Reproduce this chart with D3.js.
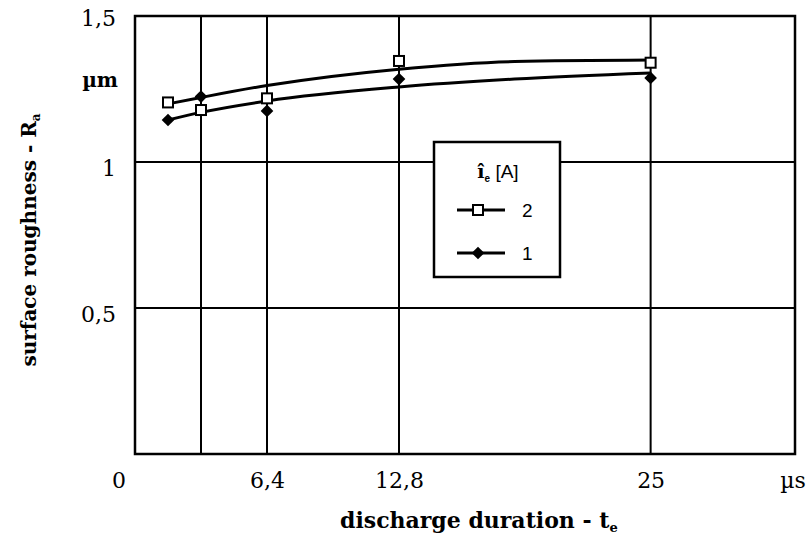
<!DOCTYPE html>
<html>
<head>
<meta charset="utf-8">
<script src="https://cdn.jsdelivr.net/npm/d3@7"></script>
<style>
  html, body { margin: 0; padding: 0; background: #fff; }
  svg { display: block; }
</style>
</head>
<body>
<svg id="chart" width="811" height="541"></svg>
<script>
// ---------- data ----------
const xValues = [1.6, 3.2, 6.4, 12.8, 25];                  // discharge duration t_e [µs]
const seriesNames = ["2", "1"];                              // î_e [A]
const seriesSquare = [1.204, 1.178, 1.218, 1.346, 1.340];    // î_e = 2 A
const seriesDiamond = [1.144, 1.224, 1.175, 1.284, 1.288];   // î_e = 1 A
const trendX = [1.6, 3.2, 6.4, 12.8, 18.4, 25];
const trendSquare = [1.199, 1.221, 1.262, 1.318, 1.344, 1.349];
const trendDiamond = [1.144, 1.170, 1.209, 1.257, 1.284, 1.305];
const xGridValues = [3.2, 6.4, 12.8, 25];
const xTickValues = [6.4, 12.8, 25];
const xTickLabels = ["6,4", "12,8", "25"];
const yGridValues = [0.5, 1.0];
const yTickValues = [1.5, 1.0, 0.5];
const yTickLabels = ["1,5", "1", "0,5"];

// ---------- layout ----------
const svg = d3.select("#chart");
const m = { left: 135, right: 795, top: 16, bottom: 454 };
const x = d3.scaleLinear().domain([0, 32]).range([m.left, m.right]);
const y = d3.scaleLinear().domain([0, 1.5]).range([m.bottom, m.top]);
const serif = "'DejaVu Serif', serif";
const sans = "'Liberation Sans', Arial, sans-serif";
const labelBase = 488;
const tickFont = 22;

// gridlines
svg.append("g").selectAll("line").data(yGridValues).join("line")
  .attr("x1", m.left).attr("x2", m.right)
  .attr("y1", d => y(d)).attr("y2", d => y(d))
  .attr("stroke", "#000").attr("stroke-width", 2);
svg.append("g").selectAll("line").data(xGridValues).join("line")
  .attr("x1", d => x(d)).attr("x2", d => x(d))
  .attr("y1", m.top).attr("y2", m.bottom)
  .attr("stroke", "#000").attr("stroke-width", 2);

// frame
svg.append("rect")
  .attr("x", m.left).attr("y", m.top)
  .attr("width", m.right - m.left).attr("height", m.bottom - m.top)
  .attr("fill", "none").attr("stroke", "#000").attr("stroke-width", 2.5);

// y tick labels
const yAxis = d3.axisLeft(y).tickValues(yTickValues)
  .tickFormat((d, i) => yTickLabels[i]).tickSize(0).tickPadding(19);
const gy = svg.append("g").attr("transform", `translate(${m.left},0)`).call(yAxis);
gy.select(".domain").remove();
gy.selectAll("text").attr("font-family", serif).attr("font-size", tickFont).attr("fill", "#000")
  .attr("dy", "0.6em");
gy.selectAll(".tick").filter(d => d === 1.5).select("text").attr("dy", "0.45em");
svg.append("text").attr("x", m.left - 17).attr("y", 87)
  .attr("text-anchor", "end").attr("font-family", serif).attr("font-weight", "bold")
  .attr("font-size", 20).text("µm");

// x tick labels
const xAxis = d3.axisBottom(x).tickValues(xTickValues)
  .tickFormat((d, i) => xTickLabels[i]).tickSize(0).tickPadding(0);
const gx = svg.append("g").attr("transform", `translate(0,${m.bottom})`).call(xAxis);
gx.select(".domain").remove();
gx.selectAll("text").attr("font-family", serif).attr("font-size", tickFont).attr("fill", "#000")
  .attr("y", labelBase - m.bottom).attr("dy", 0);
svg.append("text").attr("x", m.left - 16).attr("y", labelBase)
  .attr("text-anchor", "middle").attr("font-family", serif).attr("font-size", tickFont).text("0");
svg.append("text").attr("x", m.right - 2).attr("y", labelBase)
  .attr("text-anchor", "middle").attr("font-family", serif).attr("font-size", tickFont).text("µs");

// axis titles
const xt = svg.append("text").attr("x", 340).attr("y", 528)
  .attr("text-anchor", "start").attr("font-family", serif).attr("font-weight", "bold")
  .attr("font-size", 22);
xt.append("tspan").text("discharge duration - t");
xt.append("tspan").attr("font-size", 13).attr("dy", 4).text("e");

const yt = svg.append("text")
  .attr("transform", `translate(36,${(m.top + m.bottom) / 2 + 5}) rotate(-90)`)
  .attr("text-anchor", "middle").attr("font-family", serif).attr("font-weight", "bold")
  .attr("font-size", 20);
yt.append("tspan").text("surface roughness - R");
yt.append("tspan").attr("font-size", 12).attr("dy", 4).text("a");

// trend curves
const line = d3.line().x((d, i) => x(trendX[i])).y(d => y(d)).curve(d3.curveMonotoneX);
[trendSquare, trendDiamond].forEach(t => {
  svg.append("path").attr("d", line(t)).attr("fill", "none")
    .attr("stroke", "#000").attr("stroke-width", 3);
});

// markers
const diamondSym = d3.symbol().type(d3.symbolSquare).size(80);
svg.append("g").selectAll("path").data(seriesDiamond).join("path")
  .attr("transform", (d, i) => `translate(${x(xValues[i])},${y(d)}) rotate(45)`)
  .attr("d", diamondSym).attr("fill", "#000");
svg.append("g").selectAll("rect").data(seriesSquare).join("rect")
  .attr("x", (d, i) => x(xValues[i]) - 5).attr("y", d => y(d) - 5)
  .attr("width", 10).attr("height", 10)
  .attr("fill", "#fff").attr("stroke", "#000").attr("stroke-width", 2);

// legend
const lg = svg.append("g").attr("transform", "translate(434,142)");
lg.append("rect").attr("width", 126).attr("height", 135)
  .attr("fill", "#fff").attr("stroke", "#000").attr("stroke-width", 2.5);
const lt = lg.append("text").attr("x", 64).attr("y", 36).attr("text-anchor", "middle")
  .attr("font-family", sans).attr("font-size", 19);
lt.append("tspan").attr("font-weight", "bold").attr("font-family", serif).text("î");
lt.append("tspan").attr("font-weight", "bold").attr("font-size", 10).attr("dy", 4).text("e");
lt.append("tspan").attr("dy", -4).text(" [A]");
const rows = [{ name: seriesNames[0], kind: "square", ly: 68 }, { name: seriesNames[1], kind: "diamond", ly: 111 }];
rows.forEach(r => {
  lg.append("line").attr("x1", 23).attr("x2", 71).attr("y1", r.ly).attr("y2", r.ly)
    .attr("stroke", "#000").attr("stroke-width", 3);
  if (r.kind === "square") {
    lg.append("rect").attr("x", 39).attr("y", r.ly - 5).attr("width", 10).attr("height", 10)
      .attr("fill", "#fff").attr("stroke", "#000").attr("stroke-width", 2);
  } else {
    lg.append("path").attr("transform", `translate(44,${r.ly}) rotate(45)`).attr("d", diamondSym).attr("fill", "#000");
  }
  lg.append("text").attr("x", 88).attr("y", r.ly + 7).attr("font-family", sans)
    .attr("font-size", 19).text(r.name);
});
</script>
</body>
</html>
